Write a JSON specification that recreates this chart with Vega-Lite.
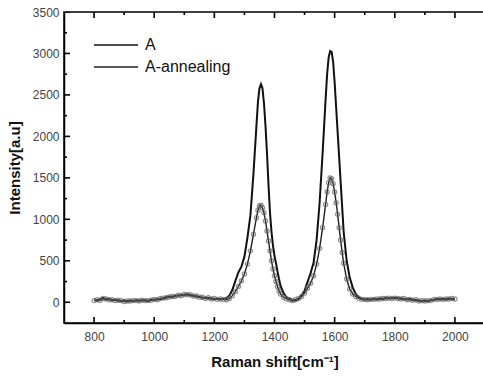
{
  "$schema": "https://vega.github.io/schema/vega-lite/v6.json",
  "width": 421,
  "height": 311,
  "autosize": {"type": "none"},
  "padding": {"left": 64, "top": 12, "right": 0, "bottom": 53},
  "background": "white",
  "config": {
    "font": "Liberation Sans",
    "view": {"stroke": "#000", "strokeWidth": 1.5},
    "axis": {
      "domainColor": "#000", "domainWidth": 1.5,
      "ticks": false, "grid": false,
      "labelColor": "#444", "labelFontSize": 12, "labelFont": "Liberation Sans",
      "titleFont": "Liberation Sans", "titleFontWeight": "bold", "titleFontSize": 15, "titleColor": "#111"
    }
  },
  "datasets": {
    "spectra": [
    {"x":800,"A":30,"A-annealing":20},{"x":810,"A":20,"A-annealing":30},{"x":820,"A":40,"A-annealing":25},{"x":830,"A":50,"A-annealing":45},{"x":840,"A":35,"A-annealing":40},{"x":850,"A":40,"A-annealing":30},{"x":860,"A":25,"A-annealing":30},{"x":870,"A":30,"A-annealing":20},{"x":880,"A":20,"A-annealing":25},{"x":890,"A":15,"A-annealing":20},
    {"x":900,"A":20,"A-annealing":10},{"x":910,"A":10,"A-annealing":15},{"x":920,"A":20,"A-annealing":15},{"x":930,"A":15,"A-annealing":20},{"x":940,"A":25,"A-annealing":20},{"x":950,"A":20,"A-annealing":15},{"x":960,"A":20,"A-annealing":25},{"x":970,"A":25,"A-annealing":20},{"x":980,"A":15,"A-annealing":20},{"x":990,"A":30,"A-annealing":25},
    {"x":1000,"A":30,"A-annealing":35},{"x":1010,"A":35,"A-annealing":30},{"x":1020,"A":40,"A-annealing":45},{"x":1030,"A":45,"A-annealing":50},{"x":1040,"A":60,"A-annealing":55},{"x":1050,"A":70,"A-annealing":65},{"x":1060,"A":65,"A-annealing":70},{"x":1070,"A":75,"A-annealing":70},{"x":1080,"A":80,"A-annealing":85},{"x":1090,"A":85,"A-annealing":80},
    {"x":1100,"A":90,"A-annealing":95},{"x":1110,"A":95,"A-annealing":90},{"x":1120,"A":85,"A-annealing":90},{"x":1130,"A":80,"A-annealing":75},{"x":1140,"A":70,"A-annealing":75},{"x":1150,"A":65,"A-annealing":60},{"x":1160,"A":55,"A-annealing":60},{"x":1170,"A":50,"A-annealing":45},{"x":1180,"A":50,"A-annealing":55},{"x":1190,"A":45,"A-annealing":40},
    {"x":1200,"A":40,"A-annealing":45},{"x":1210,"A":40,"A-annealing":35},{"x":1220,"A":35,"A-annealing":40},{"x":1230,"A":40,"A-annealing":35},{"x":1240,"A":50,"A-annealing":30},{"x":1250,"A":80,"A-annealing":45},{"x":1260,"A":150,"A-annealing":80},{"x":1270,"A":260,"A-annealing":130},{"x":1280,"A":360,"A-annealing":190},{"x":1290,"A":430,"A-annealing":260},
    {"x":1300,"A":550,"A-annealing":340},{"x":1310,"A":780,"A-annealing":460},{"x":1320,"A":1050,"A-annealing":620},{"x":1330,"A":1550,"A-annealing":820},{"x":1340,"A":2130,"A-annealing":1020},{"x":1345,"A":2420,"A-annealing":1110},{"x":1350,"A":2580,"A-annealing":1160},{"x":1355,"A":2630,"A-annealing":1170},{"x":1360,"A":2580,"A-annealing":1140},{"x":1365,"A":2400,"A-annealing":1080},
    {"x":1370,"A":2130,"A-annealing":980},{"x":1375,"A":1800,"A-annealing":860},{"x":1380,"A":1420,"A-annealing":740},{"x":1385,"A":1080,"A-annealing":620},{"x":1390,"A":850,"A-annealing":500},{"x":1395,"A":680,"A-annealing":400},{"x":1400,"A":560,"A-annealing":320},{"x":1405,"A":470,"A-annealing":250},{"x":1410,"A":370,"A-annealing":190},{"x":1415,"A":280,"A-annealing":140},
    {"x":1420,"A":200,"A-annealing":100},{"x":1430,"A":110,"A-annealing":60},{"x":1440,"A":60,"A-annealing":40},{"x":1450,"A":40,"A-annealing":30},{"x":1460,"A":20,"A-annealing":20},{"x":1470,"A":25,"A-annealing":30},{"x":1480,"A":40,"A-annealing":45},{"x":1490,"A":80,"A-annealing":70},{"x":1500,"A":140,"A-annealing":110},{"x":1510,"A":250,"A-annealing":170},
    {"x":1520,"A":350,"A-annealing":230},{"x":1530,"A":480,"A-annealing":320},{"x":1540,"A":750,"A-annealing":460},{"x":1550,"A":1200,"A-annealing":650},{"x":1560,"A":1800,"A-annealing":900},{"x":1570,"A":2450,"A-annealing":1180},{"x":1575,"A":2750,"A-annealing":1330},{"x":1580,"A":2950,"A-annealing":1440},{"x":1585,"A":3030,"A-annealing":1500},{"x":1590,"A":3020,"A-annealing":1490},
    {"x":1595,"A":2900,"A-annealing":1430},{"x":1600,"A":2650,"A-annealing":1330},{"x":1605,"A":2350,"A-annealing":1200},{"x":1610,"A":2050,"A-annealing":1060},{"x":1615,"A":1750,"A-annealing":900},{"x":1620,"A":1450,"A-annealing":750},{"x":1625,"A":1150,"A-annealing":600},{"x":1630,"A":850,"A-annealing":470},{"x":1640,"A":500,"A-annealing":280},{"x":1650,"A":300,"A-annealing":160},
    {"x":1660,"A":180,"A-annealing":100},{"x":1670,"A":100,"A-annealing":70},{"x":1680,"A":60,"A-annealing":50},{"x":1690,"A":40,"A-annealing":35},{"x":1700,"A":30,"A-annealing":35},{"x":1710,"A":40,"A-annealing":30},{"x":1720,"A":30,"A-annealing":35},{"x":1730,"A":40,"A-annealing":35},{"x":1740,"A":35,"A-annealing":40},{"x":1750,"A":45,"A-annealing":40},
    {"x":1760,"A":40,"A-annealing":45},{"x":1770,"A":50,"A-annealing":45},{"x":1780,"A":45,"A-annealing":50},{"x":1790,"A":50,"A-annealing":45},{"x":1800,"A":55,"A-annealing":50},{"x":1810,"A":50,"A-annealing":45},{"x":1820,"A":45,"A-annealing":40},{"x":1830,"A":40,"A-annealing":45},{"x":1840,"A":35,"A-annealing":30},{"x":1850,"A":40,"A-annealing":35},
    {"x":1860,"A":30,"A-annealing":25},{"x":1870,"A":25,"A-annealing":30},{"x":1880,"A":20,"A-annealing":15},{"x":1890,"A":15,"A-annealing":20},{"x":1900,"A":20,"A-annealing":15},{"x":1910,"A":15,"A-annealing":20},{"x":1920,"A":25,"A-annealing":20},{"x":1930,"A":30,"A-annealing":35},{"x":1940,"A":40,"A-annealing":35},{"x":1950,"A":35,"A-annealing":40},
    {"x":1960,"A":40,"A-annealing":35},{"x":1970,"A":35,"A-annealing":40},{"x":1980,"A":45,"A-annealing":40},{"x":1990,"A":40,"A-annealing":45},{"x":2000,"A":35,"A-annealing":40}
    ],
    "xticks": [{"v":800},{"v":900},{"v":1000},{"v":1100},{"v":1200},{"v":1300},{"v":1400},{"v":1500},{"v":1600},{"v":1700},{"v":1800},{"v":1900},{"v":2000}],
    "yticks": [{"v":0},{"v":250},{"v":500},{"v":750},{"v":1000},{"v":1250},{"v":1500},{"v":1750},{"v":2000},{"v":2250},{"v":2500},{"v":2750},{"v":3000},{"v":3250},{"v":3500}]
  },
  "layer": [
    {
      "data": {"name": "spectra"},
      "transform": [{"fold": ["A", "A-annealing"], "as": ["series", "y"]}, {"filter": "datum.series === 'A'"}],
      "mark": {"type": "line", "strokeWidth": 2, "clip": true},
      "encoding": {
        "x": {"field": "x", "type": "quantitative", "scale": {"domain": [700, 2100], "nice": false, "zero": false},
          "axis": {"orient": "bottom", "title": "Raman shift[cm⁻¹]", "titlePadding": 12, "format": "d",
            "values": [800,1000,1200,1400,1600,1800,2000], "labelPadding": 8}},
        "y": {"field": "y", "type": "quantitative", "scale": {"domain": [-250, 3500], "nice": false, "zero": false},
          "axis": {"title": "Intensity[a.u]", "titlePadding": 10, "format": "d",
            "values": [0,500,1000,1500,2000,2500,3000,3500], "labelPadding": 5}},
        "color": {"field": "series", "type": "nominal",
          "scale": {"domain": ["A", "A-annealing"], "range": ["#111", "#222"]},
          "legend": {"orient": "none", "legendX": 29, "legendY": 25, "title": null,
            "symbolType": "stroke", "symbolSize": 1936, "symbolStrokeWidth": 1.6, "clipHeight": 16,
            "labelFontSize": 16, "labelColor": "#111", "labelOffset": 6, "rowPadding": 6, "padding": 0}}
      }
    },
    {
      "data": {"name": "spectra"},
      "transform": [{"fold": ["A", "A-annealing"], "as": ["series", "y"]}, {"filter": "datum.series === 'A-annealing'"}],
      "mark": {"type": "line", "strokeWidth": 1.4, "clip": true},
      "encoding": {
        "x": {"field": "x", "type": "quantitative", "axis": null},
        "y": {"field": "y", "type": "quantitative"},
        "color": {"field": "series", "type": "nominal"}
      }
    },
    {
      "data": {"name": "spectra"},
      "transform": [{"fold": ["A", "A-annealing"], "as": ["series", "y"]}, {"filter": "datum.series === 'A-annealing'"}],
      "mark": {"type": "point", "shape": "circle", "filled": false, "size": 18, "stroke": "#666", "strokeWidth": 1.2, "clip": true},
      "encoding": {
        "x": {"field": "x", "type": "quantitative", "axis": null},
        "y": {"field": "y", "type": "quantitative"}
      }
    },
    {
      "data": {"name": "xticks"},
      "mark": {"type": "tick", "orient": "vertical", "color": "#000", "thickness": 1.6, "opacity": 1, "clip": true},
      "encoding": {
        "x": {"field": "v", "type": "quantitative", "axis": null},
        "y": {"datum": -250, "type": "quantitative"},
        "size": {"condition": {"test": "datum.v % 200 === 0", "value": 12}, "value": 6}
      }
    },
    {
      "data": {"name": "xticks"},
      "mark": {"type": "tick", "orient": "vertical", "color": "#000", "thickness": 1.6, "opacity": 1, "clip": true},
      "encoding": {
        "x": {"field": "v", "type": "quantitative", "axis": null},
        "y": {"datum": 3500, "type": "quantitative"},
        "size": {"condition": {"test": "datum.v % 200 === 0", "value": 12}, "value": 6}
      }
    },
    {
      "data": {"name": "yticks"},
      "mark": {"type": "tick", "orient": "horizontal", "color": "#000", "thickness": 1.6, "opacity": 1, "clip": true},
      "encoding": {
        "y": {"field": "v", "type": "quantitative"},
        "x": {"datum": 700, "type": "quantitative", "axis": null},
        "size": {"condition": {"test": "datum.v % 500 === 0", "value": 12}, "value": 6}
      }
    }
  ],
  "resolve": {"axis": {"x": "independent"}}
}
